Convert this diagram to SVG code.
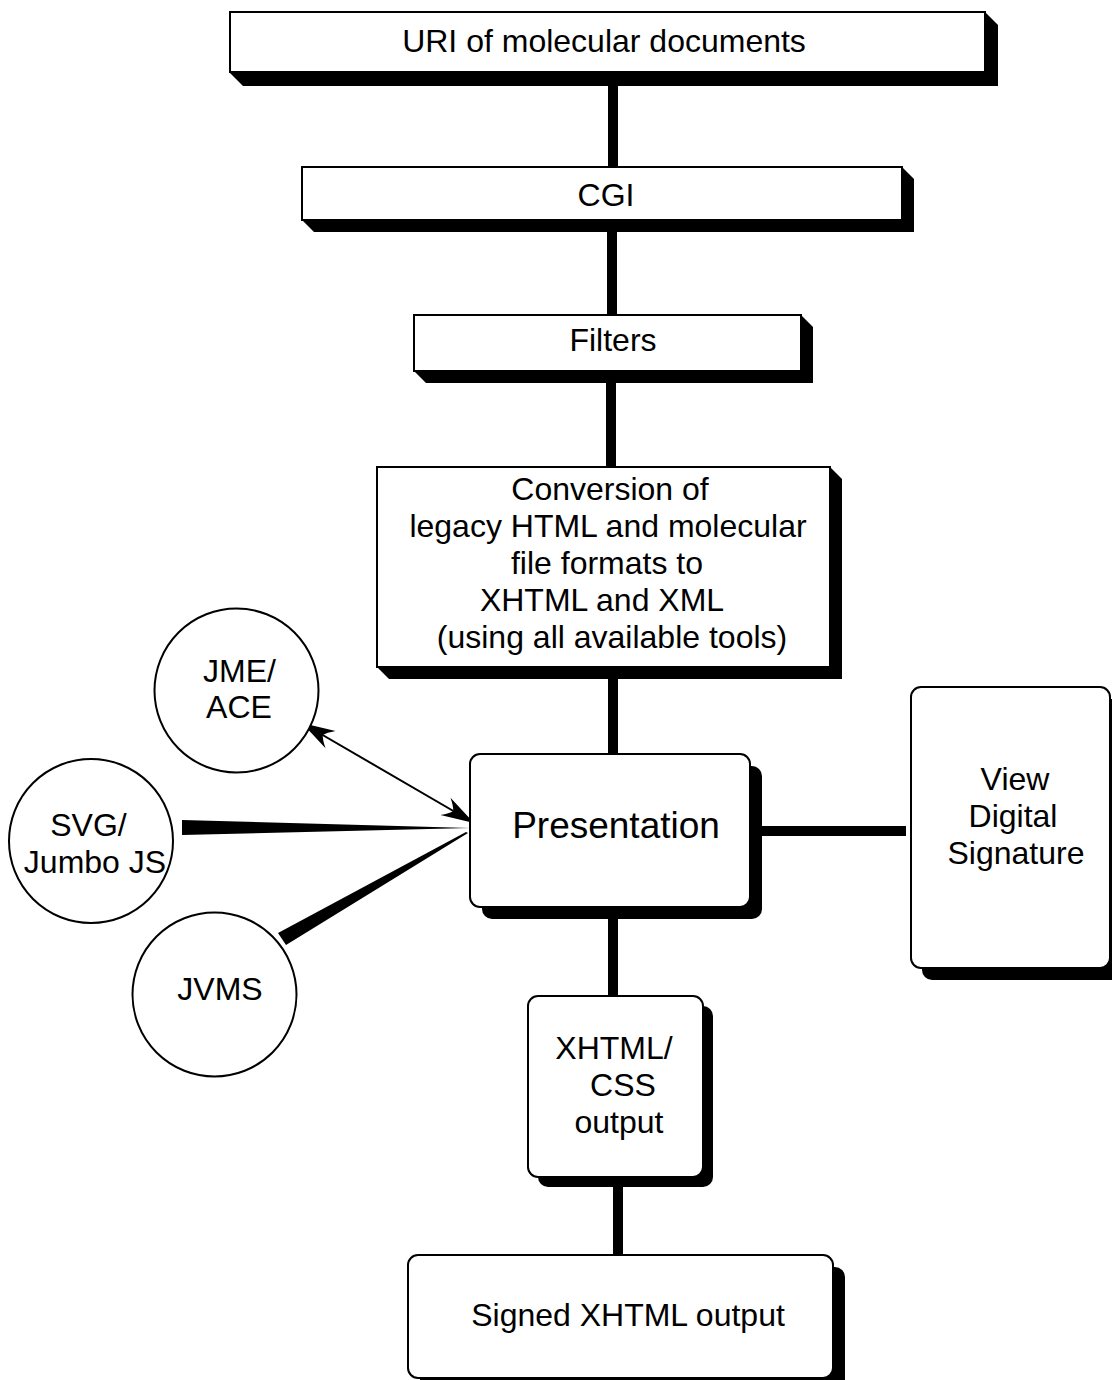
<svg xmlns="http://www.w3.org/2000/svg" width="1112" height="1380" viewBox="0 0 1112 1380">
  <style>
    .box { fill: #ffffff; stroke: #000000; stroke-width: 2; }
    .shadow { fill: #000000; stroke: none; }
    .ring { fill: #ffffff; stroke: #000000; stroke-width: 2; }
    .stem { fill: #000000; stroke: none; }
    .lbl { font-family: "Liberation Sans", Arial, sans-serif; font-size: 32px; fill: #000000; text-anchor: middle; }
    .big { font-size: 37px; }
  </style>
  <defs>
    <marker id="barb" viewBox="-34 -12 36 24" markerWidth="36" markerHeight="24" refX="0" refY="0" markerUnits="userSpaceOnUse" orient="auto-start-reverse">
      <path d="M0,0 L-33,-10 Q-26,-4 -24,0 Q-26,4 -33,10 Z" fill="#000000"/>
    </marker>
  </defs>

  <rect width="1112" height="1380" fill="#ffffff"/>

  <!-- connectors -->
  <g id="connectors">
    <rect class="stem" x="608" y="80" width="10" height="92"/>
    <rect class="stem" x="607" y="226" width="10" height="94"/>
    <rect class="stem" x="606" y="376" width="10" height="96"/>
    <rect class="stem" x="608" y="672" width="10" height="86"/>
    <rect class="stem" x="608" y="912" width="10" height="90"/>
    <rect class="stem" x="613" y="1182" width="10" height="78"/>
    <rect class="stem" x="758" y="826" width="148" height="10"/>
    <polygon class="stem" points="182,820 182,835 470,828"/>
    <polygon class="stem" points="278,933 286,945 468,833 466,832"/>
    <line x1="302" y1="723" x2="474" y2="823" stroke="#000000" stroke-width="2" marker-start="url(#barb)" marker-end="url(#barb)"/>
  </g>

  <!-- URI of molecular documents -->
  <g id="uri">
    <polygon class="shadow" points="985,12 998,25 998,86 243,86 230,73"/>
    <rect class="box" x="230" y="12" width="755" height="60"/>
    <text class="lbl" x="604" y="52">URI of molecular documents</text>
  </g>

  <!-- CGI -->
  <g id="cgi">
    <polygon class="shadow" points="902,167 914,179 914,232 314,232 302,220"/>
    <rect class="box" x="302" y="167" width="600" height="53"/>
    <text class="lbl" x="606" y="206">CGI</text>
  </g>

  <!-- Filters -->
  <g id="filters">
    <polygon class="shadow" points="801,315 813,327 813,383 426,383 414,371"/>
    <rect class="box" x="414" y="315" width="387" height="56"/>
    <text class="lbl" x="613" y="351">Filters</text>
  </g>

  <!-- Conversion -->
  <g id="conversion">
    <polygon class="shadow" points="830,467 842,479 842,679 389,679 377,667"/>
    <rect class="box" x="377" y="467" width="453" height="200"/>
    <text class="lbl" x="610" y="500">Conversion of</text>
    <text class="lbl" x="608" y="537">legacy HTML and molecular</text>
    <text class="lbl" x="607" y="574">file formats to</text>
    <text class="lbl" x="602" y="611">XHTML and XML</text>
    <text class="lbl" x="612" y="648">(using all available tools)</text>
  </g>

  <!-- Presentation -->
  <g id="presentation">
    <rect class="shadow" x="482" y="766" width="280" height="153" rx="10"/>
    <rect class="box" x="470" y="754" width="280" height="153" rx="10"/>
    <text class="lbl big" x="616" y="838">Presentation</text>
  </g>

  <!-- View Digital Signature -->
  <g id="signature">
    <rect class="shadow" x="922" y="699" width="200" height="281" rx="10"/>
    <rect class="box" x="911" y="687" width="199" height="281" rx="10"/>
    <text class="lbl" x="1015" y="790">View</text>
    <text class="lbl" x="1013" y="827">Digital</text>
    <text class="lbl" x="1016" y="864">Signature</text>
  </g>

  <!-- XHTML/CSS output -->
  <g id="xhtml">
    <rect class="shadow" x="538" y="1006" width="175" height="181" rx="10"/>
    <rect class="box" x="528" y="996" width="175" height="181" rx="10"/>
    <text class="lbl" x="614" y="1059">XHTML/</text>
    <text class="lbl" x="623" y="1096">CSS</text>
    <text class="lbl" x="619" y="1133">output</text>
  </g>

  <!-- Signed XHTML output -->
  <g id="signed">
    <rect class="shadow" x="420" y="1267" width="425" height="123" rx="10"/>
    <rect class="box" x="408" y="1255" width="425" height="123" rx="10"/>
    <text class="lbl" x="628" y="1326">Signed XHTML output</text>
  </g>

  <!-- JME/ACE -->
  <g id="jme">
    <circle class="ring" cx="236.5" cy="690.5" r="82"/>
    <text class="lbl" x="239.5" y="682">JME/</text>
    <text class="lbl" x="239" y="718">ACE</text>
  </g>

  <!-- SVG/Jumbo JS -->
  <g id="svgjs">
    <circle class="ring" cx="91" cy="841" r="82"/>
    <text class="lbl" x="88.5" y="836">SVG/</text>
    <text class="lbl" x="95" y="873">Jumbo JS</text>
  </g>

  <!-- JVMS -->
  <g id="jvms">
    <circle class="ring" cx="214.5" cy="994.5" r="82"/>
    <text class="lbl" x="220" y="1000">JVMS</text>
  </g>
</svg>
